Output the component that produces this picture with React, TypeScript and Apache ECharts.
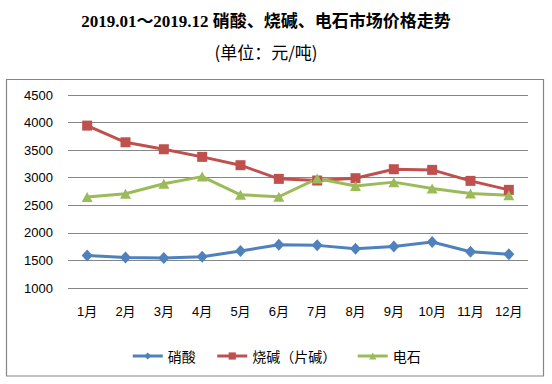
import React, { useEffect, useRef } from "react";
import * as echarts from "echarts";

const months = ["1月", "2月", "3月", "4月", "5月", "6月", "7月", "8月", "9月", "10月", "11月", "12月"];
const nitricAcid = [1590, 1555, 1545, 1567, 1670, 1785, 1773, 1712, 1754, 1833, 1658, 1610];
const causticSoda = [3945, 3643, 3516, 3378, 3227, 2979, 2949, 2991, 3154, 3142, 2943, 2780];
const calciumCarbide = [2650, 2710, 2890, 3020, 2690, 2655, 2985, 2850, 2920, 2805, 2715, 2680];
const seriesNames = ["硝酸", "烧碱（片碱）", "电石"];
const yTicks = [1000, 1500, 2000, 2500, 3000, 3500, 4000, 4500];

export default function App() {
  const ref = useRef<HTMLDivElement>(null);
  useEffect(() => {
    if (!ref.current) return;
    const chart = echarts.init(ref.current, null, { renderer: "svg" });
    const lineStyle = (c: string) => ({ color: c, width: 3 });
    chart.setOption({
      animation: false,
      backgroundColor: "#fff",
      title: [
        {
          text: "2019.01～2019.12 硝酸、烧碱、电石市场价格走势",
          left: 261,
          top: 8,
          textAlign: "center",
          textStyle: {
            fontFamily: "'Liberation Serif', 'Noto Sans CJK SC'",
            fontSize: 17,
            fontWeight: "bold",
            color: "#000",
          },
        },
        {
          text: "(单位：元/吨)",
          left: 261,
          top: 38,
          textAlign: "center",
          textStyle: {
            fontFamily: "'Noto Sans CJK SC'",
            fontSize: 17,
            fontWeight: "normal",
            color: "#000",
          },
        },
      ],
      graphic: [
        {
          type: "rect",
          shape: { x: 6.5, y: 79.5, width: 537, height: 296.5 },
          style: { fill: "none", stroke: "#868686", lineWidth: 1.2 },
          silent: true,
        },
      ],
      legend: {
        data: seriesNames,
        left: "center",
        top: 344,
        itemWidth: 30,
        itemHeight: 9,
        itemGap: 20,
        lineStyle: { width: 3 },
        textStyle: { fontFamily: "'Noto Sans CJK SC'", fontSize: 14, color: "#000" },
      },
      grid: { left: 68, right: 24, top: 95, bottom: 96, containLabel: false },
      xAxis: {
        type: "category",
        data: months,
        boundaryGap: true,
        axisLine: { show: false },
        axisTick: { show: false },
        axisLabel: {
          margin: 17,
          fontFamily: "'Liberation Sans', 'Noto Sans CJK SC'",
          fontSize: 13,
          color: "#000",
        },
      },
      yAxis: {
        type: "value",
        min: yTicks[0],
        max: yTicks[yTicks.length - 1],
        interval: 500,
        axisLine: { show: false },
        axisTick: { show: false },
        axisLabel: {
          margin: 15,
          fontFamily: "'Liberation Sans'",
          fontSize: 13,
          color: "#000",
          formatter: (v: number) => String(v),
        },
        splitLine: { show: true, lineStyle: { color: "#868686", width: 1 } },
      },
      series: [
        {
          name: seriesNames[0],
          type: "line",
          data: nitricAcid,
          symbol: "diamond",
          symbolSize: [11, 12],
          color: "#4F81BD",
          lineStyle: lineStyle("#4F81BD"),
        },
        {
          name: seriesNames[1],
          type: "line",
          data: causticSoda,
          symbol: "rect",
          symbolSize: 10,
          color: "#C0504D",
          lineStyle: lineStyle("#C0504D"),
        },
        {
          name: seriesNames[2],
          type: "line",
          data: calciumCarbide,
          symbol: "triangle",
          symbolSize: [11, 10],
          color: "#9BBB59",
          lineStyle: lineStyle("#9BBB59"),
        },
      ],
    });
    return () => chart.dispose();
  }, []);
  return (
    <div
      ref={ref}
      style={{ position: "absolute", left: 0, top: 0, width: 552, height: 384 }}
    />
  );
}
